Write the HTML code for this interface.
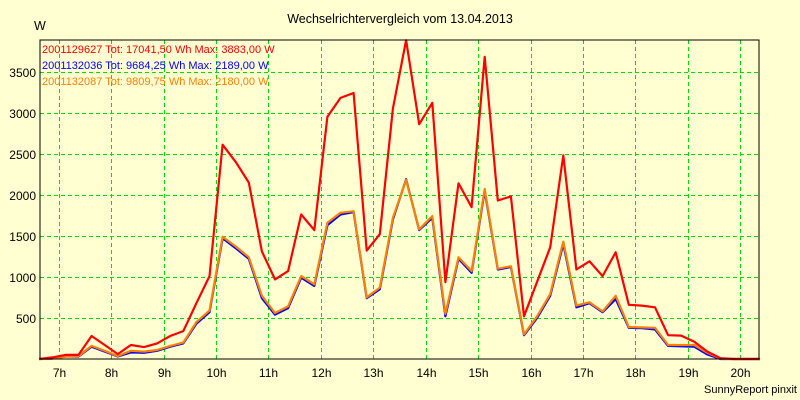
<!DOCTYPE html>
<html><head><meta charset="utf-8"><style>
html,body{margin:0;padding:0;background:#ffffd2;}
svg{display:block;font-family:"Liberation Sans",Arial,sans-serif;}
</style></head><body>
<svg id="chart" width="800" height="400" viewBox="0 0 800 400">
<rect x="0" y="0" width="800" height="400" fill="#ffffd2"/>
<text x="400" y="23" font-size="12.5" text-anchor="middle" fill="#000">Wechselrichtervergleich vom 13.04.2013</text>
<text x="34" y="30" font-size="12.5" fill="#000">W</text>
<g id="grid"></g>
<g id="yticks"></g>
<g id="xticks"></g>
<g id="series"></g>
<rect x="40" y="40" width="719" height="319" fill="none" stroke="#000" stroke-width="1"/>
<g font-size="11">
<text x="42" y="53" fill="#ff0000">2001129627 Tot: 17041,50 Wh Max: 3883,00 W</text>
<text x="42" y="69" fill="#0000ff">2001132036 Tot: 9684,25 Wh Max: 2189,00 W</text>
<text x="42" y="85" fill="#ff8000">2001132087 Tot: 9809,75 Wh Max: 2180,00 W</text>
</g>
<text x="797" y="393" font-size="11" text-anchor="end" fill="#000">SunnyReport pinxit</text>
</svg>
<script>
const startHour = 6.625;
const stepHours = 0.25;
const xTickHours = [7,8,9,10,11,12,13,14,15,16,17,18,19,20];
const xTickLabels = ["7h","8h","9h","10h","11h","12h","13h","14h","15h","16h","17h","18h","19h","20h"];
const yTickValues = [500,1000,1500,2000,2500,3000,3500];
const redValues = [0,20,50,50,280,170,60,170,145,190,280,340,680,1010,2610,2400,2150,1310,970,1070,1760,1570,2950,3180,3240,1320,1520,3050,3883,2860,3120,935,2140,1850,3680,1930,1980,520,940,1360,2480,1090,1190,1010,1300,660,650,630,290,285,210,90,10,0,0,0];
const orangeValues = [0,5,30,35,160,100,35,100,90,110,160,200,450,590,1490,1370,1240,770,560,640,1010,910,1660,1780,1800,750,870,1720,2180,1580,1740,550,1240,1070,2070,1100,1130,300,520,790,1430,650,690,580,770,390,385,380,170,170,170,75,5,0,0,0];
const blueValues = [0,5,30,30,150,90,30,80,75,100,150,190,430,570,1470,1350,1220,740,540,620,990,890,1630,1760,1790,740,850,1700,2189,1570,1720,520,1220,1050,2050,1090,1120,290,500,770,1400,630,680,570,730,380,375,360,160,155,150,55,0,0,0,0];

const x0=40, x1=759, y0=359, y1=40;
const hMin=6.64, hMax=20.36, vMax=3885;
function xScale(h){return x0+(h-hMin)/(hMax-hMin)*(x1-x0);}
function yScale(v){return y0-(v/vMax)*(y0-y1);}
const NS="http://www.w3.org/2000/svg";
const grid=document.getElementById('grid');
const yt=document.getElementById('yticks');
const xt=document.getElementById('xticks');
const ser=document.getElementById('series');

yTickValues.forEach(v=>{
  const y=Math.round(yScale(v))+0.5;
  const l=document.createElementNS(NS,'line');
  
  
  l.setAttribute('x1',x0);l.setAttribute('x2',x1);l.setAttribute('y1',y);l.setAttribute('y2',y);
  l.setAttribute('stroke','#00dd00');l.setAttribute('stroke-dasharray','4,3');
  grid.appendChild(l);
  const t=document.createElementNS(NS,'text');
  
  
  t.setAttribute('x',36);t.setAttribute('y',y+4.5);t.setAttribute('text-anchor','end');t.setAttribute('font-size','12');
  t.textContent=String(v);
  yt.appendChild(t);
});
xTickHours.forEach((h,i)=>{
  const x=Math.round(xScale(h))+0.5;
  const l=document.createElementNS(NS,'line');
  
  
  l.setAttribute('x1',x);l.setAttribute('x2',x);l.setAttribute('y1',y1);l.setAttribute('y2',y0);
  l.setAttribute('stroke','#00dd00');l.setAttribute('stroke-dasharray','4,3');
  grid.appendChild(l);
  const t=document.createElementNS(NS,'text');
  
  
  t.setAttribute('x',x);t.setAttribute('y',377);t.setAttribute('text-anchor','middle');t.setAttribute('font-size','12');
  t.textContent=xTickLabels[i];
  xt.appendChild(t);
});
function drawSeries(vals,color,name){
  const pts=vals.map((v,i)=>xScale(startHour+i*stepHours).toFixed(1)+','+yScale(v).toFixed(1)).join(' ');
  const p=document.createElementNS(NS,'polyline');
  
  
  p.setAttribute('points',pts);
  p.setAttribute('fill','none');p.setAttribute('stroke',color);p.setAttribute('stroke-width','2.2');
  p.setAttribute('stroke-linejoin','round');
  ser.appendChild(p);
}
drawSeries(blueValues,'#0000ff','series-2001132036');
drawSeries(orangeValues,'#ff8000','series-2001132087');
drawSeries(redValues,'#ff0000','series-2001129627');
</script>
</body></html>
